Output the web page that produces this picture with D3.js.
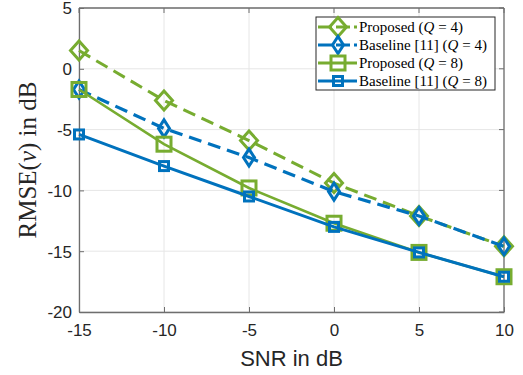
<!DOCTYPE html>
<html>
<head>
<meta charset="utf-8">
<script src="https://cdn.jsdelivr.net/npm/d3@7"></script>
<style>
  body { margin: 0; background: #fff; }
  svg { display: block; }
</style>
</head>
<body>
<svg id="chart" width="523" height="375"></svg>
<script>
// SNR values (x) and RMSE values per curve
const snr = [-15, -10, -5, 0, 5, 10];
const proposedQ4 = [1.5, -2.6, -5.9, -9.4, -12.1, -14.6];
const baselineQ4 = [-1.7, -4.9, -7.3, -10.1, -12.1, -14.6];
const proposedQ8 = [-1.7, -6.2, -9.8, -12.7, -15.1, -17.1];
const baselineQ8 = [-5.4, -8.0, -10.5, -13.0, -15.1, -17.1];
const xTicks = [-15, -10, -5, 0, 5, 10];
const yTicks = [5, 0, -5, -10, -15, -20];

const green = '#77AC30', blue = '#0072BD';
// marker sizes: half-width / half-height of the glyph
const series = [
  { name: 'Proposed', q: 4, values: proposedQ4, color: green, dash: '13,7', marker: 'diamond', hw: 8.5, hh: 9.5, lw: 3 },
  { name: 'Baseline [11]', q: 4, values: baselineQ4, color: blue, dash: '13,7', marker: 'diamond', hw: 5.5, hh: 8.5, lw: 3.2 },
  { name: 'Proposed', q: 8, values: proposedQ8, color: green, dash: null, marker: 'square', hw: 7, hh: 7, lw: 2.6 },
  { name: 'Baseline [11]', q: 8, values: baselineQ8, color: blue, dash: null, marker: 'square', hw: 4.5, hh: 4.5, lw: 3 }
];

const svg = d3.select('#chart');
const pLeft = 79, pRight = 504, pTop = 8, pBottom = 312;

const x = d3.scaleLinear().domain([-15, 10]).range([pLeft, pRight]);
const y = d3.scaleLinear().domain([-20, 5]).range([pBottom, pTop]);

// grid
const grid = svg.append('g');
grid.selectAll('.gx').data(xTicks).enter().append('line')
  .attr('x1', d => x(d)).attr('x2', d => x(d))
  .attr('y1', pTop).attr('y2', pBottom)
  .style('stroke', '#e6e6e6').style('stroke-width', 1);
grid.selectAll('.gy').data(yTicks).enter().append('line')
  .attr('x1', pLeft).attr('x2', pRight)
  .attr('y1', d => y(d)).attr('y2', d => y(d))
  .style('stroke', '#e6e6e6').style('stroke-width', 1);

// axes
const axisColor = '#262626';
const fmt = d => String(d);  // plain hyphen like MATLAB
const xAxis = svg.append('g').attr('transform', `translate(0,${pBottom})`)
  .call(d3.axisBottom(x).tickValues(xTicks).tickSizeInner(-5).tickSizeOuter(0).tickPadding(12).tickFormat(fmt));
const yAxis = svg.append('g').attr('transform', `translate(${pLeft},0)`)
  .call(d3.axisLeft(y).tickValues(yTicks).tickSizeInner(-5).tickSizeOuter(0).tickPadding(7).tickFormat(fmt));
[xAxis, yAxis].forEach(a => {
  a.selectAll('path').style('stroke', '#6e6e6e').style('stroke-width', 1.3);
  a.selectAll('line').style('stroke', '#6e6e6e');
  a.selectAll('text').style('font-family', '"Liberation Sans", Arial, sans-serif')
    .style('font-size', '17px').style('fill', axisColor);
});
xAxis.selectAll('text').attr('dy', '0.72em');
yAxis.selectAll('text').attr('dy', '0.35em');

// top and right box lines
svg.append('line').attr('x1', pLeft).attr('x2', pRight).attr('y1', pTop).attr('y2', pTop)
  .style('stroke', '#6e6e6e').style('stroke-width', 1.3);
svg.append('line').attr('x1', pRight).attr('x2', pRight).attr('y1', pTop).attr('y2', pBottom)
  .style('stroke', '#6e6e6e').style('stroke-width', 1.3);
// right and top side ticks
svg.selectAll('.rt').data(yTicks).enter().append('line')
  .attr('x1', pRight).attr('x2', pRight - 5).attr('y1', d => y(d)).attr('y2', d => y(d))
  .style('stroke', '#6e6e6e');
svg.selectAll('.tt').data(xTicks).enter().append('line')
  .attr('x1', d => x(d)).attr('x2', d => x(d)).attr('y1', pTop).attr('y2', pTop + 5)
  .style('stroke', '#6e6e6e');

// labels
svg.append('text').attr('x', (pLeft + pRight) / 2).attr('y', 366)
  .attr('text-anchor', 'middle')
  .style('font-family', '"Liberation Sans", Arial, sans-serif').style('font-size', '22px').style('fill', axisColor)
  .text('SNR in dB');
const yl = svg.append('text').attr('transform', `translate(36,160) rotate(-90)`)
  .attr('text-anchor', 'middle')
  .style('font-family', '"Liberation Serif", "Times New Roman", serif').style('font-size', '25px').style('fill', axisColor);
yl.append('tspan').text('RMSE(');
yl.append('tspan').style('font-style', 'italic').text('ν');
yl.append('tspan').text(') in dB');

function drawMarker(g, s, cx, cy) {
  if (s.marker === 'diamond') {
    g.append('path').attr('d', `M${cx},${cy - s.hh}L${cx + s.hw},${cy}L${cx},${cy + s.hh}L${cx - s.hw},${cy}Z`)
      .style('fill', 'none').style('stroke', s.color).style('stroke-width', 3);
  } else {
    g.append('rect').attr('x', cx - s.hw).attr('y', cy - s.hh).attr('width', 2 * s.hw).attr('height', 2 * s.hh)
      .style('fill', 'none').style('stroke', s.color).style('stroke-width', 3);
  }
}

const line = d3.line().x(d => x(d[0])).y(d => y(d[1]));
const plot = svg.append('g');
series.forEach(s => {
  const pts = snr.map((v, i) => [v, s.values[i]]);
  plot.append('path').datum(pts).attr('d', line)
    .style('fill', 'none').style('stroke', s.color).style('stroke-width', s.lw)
    .style('stroke-dasharray', s.dash);
  pts.forEach(p => drawMarker(plot, s, x(p[0]), y(p[1])));
});

// legend
const lg = svg.append('g');
lg.append('rect').attr('x', 316).attr('y', 17).attr('width', 179).attr('height', 73)
  .style('fill', '#fff').style('stroke', '#262626').style('stroke-width', 1);
series.forEach((s, i) => {
  const ry = 27 + i * 18;
  lg.append('line').attr('x1', 318).attr('x2', 357).attr('y1', ry).attr('y2', ry)
    .style('stroke', s.color).style('stroke-width', 3).style('stroke-dasharray', s.dash ? '14,4' : null);
  drawMarker(lg, s, 338, ry);
  const t = lg.append('text').attr('x', 359).attr('y', ry + 5)
    .style('font-family', '"Liberation Serif", "Times New Roman", serif').style('font-size', '15px').style('fill', '#000');
  t.append('tspan').text(s.name + ' (');
  t.append('tspan').style('font-style', 'italic').text('Q');
  t.append('tspan').text(' = ' + s.q + ')');
});
</script>
</body>
</html>
